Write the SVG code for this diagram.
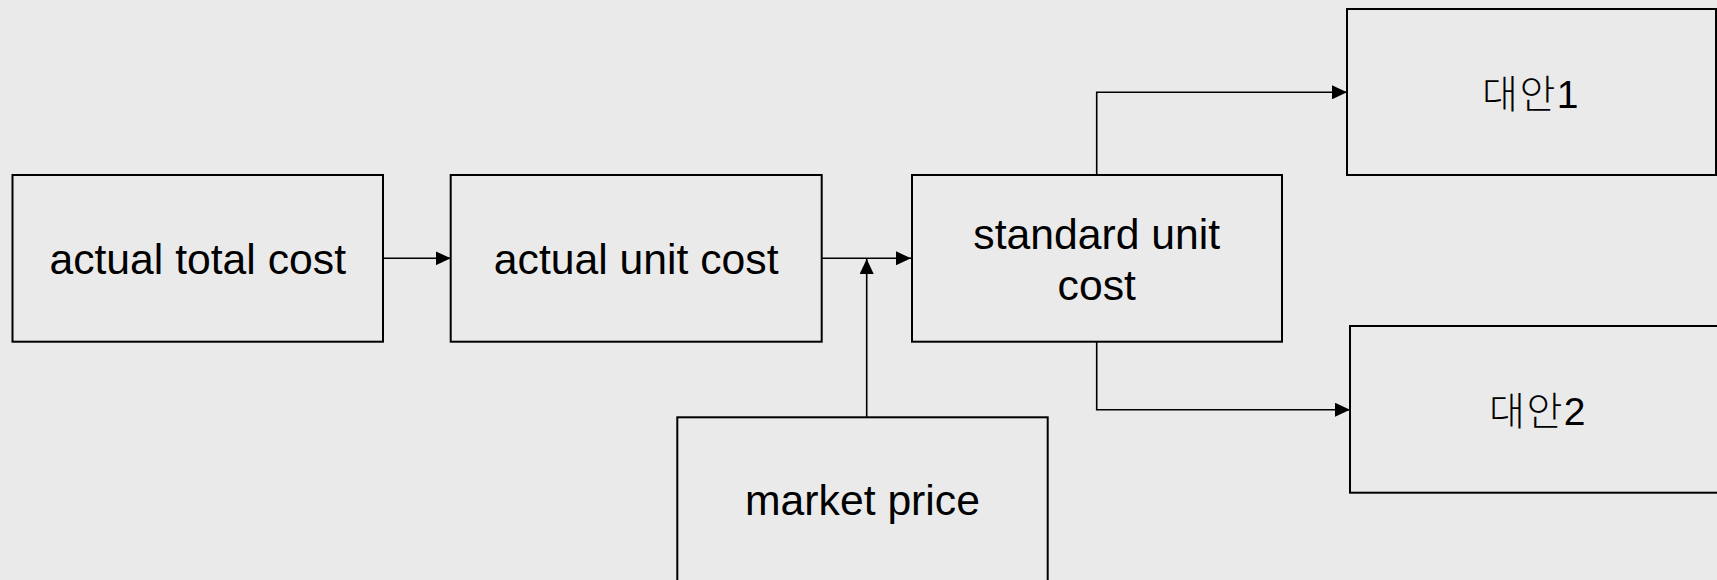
<svg xmlns="http://www.w3.org/2000/svg" width="1717" height="580" viewBox="0 0 1717 580">
  <style>
    .box { fill: #eaeaea; stroke: #000; stroke-width: 2; }
    .lbl { font-family: "Liberation Sans", Arial, sans-serif; font-size: 42.7px; fill: #000; text-anchor: middle; }
    .kr { font-family: "Liberation Sans", "Noto Sans CJK KR", sans-serif; font-size: 39px; font-weight: 300; letter-spacing: 1.5px; fill: #000; text-anchor: middle; }
    .conn { fill: none; stroke: #000; stroke-width: 1.6; }
  </style>
  <defs>
    <marker id="arrow" markerUnits="userSpaceOnUse" markerWidth="16" markerHeight="14" refX="15" refY="7" orient="auto">
      <path d="M0,0 L15,7 L0,14 Z" fill="#000"/>
    </marker>
  </defs>
  <rect width="1717" height="580" fill="#eaeaea"/>

  <g id="connectors">
    <path class="conn" d="M383 258.3 H450.7" marker-end="url(#arrow)"/>
    <path class="conn" d="M821.7 258.3 H911" marker-end="url(#arrow)"/>
    <path class="conn" d="M866.7 417.3 V259" marker-end="url(#arrow)"/>
    <path class="conn" d="M1096.7 175 V92.3 H1347" marker-end="url(#arrow)"/>
    <path class="conn" d="M1096.7 341.7 V409.7 H1350" marker-end="url(#arrow)"/>
  </g>

  <g id="actual-total-cost">
    <rect class="box" x="12.5" y="175" width="370.5" height="166.7"/>
    <text class="lbl" x="197.7" y="274.3">actual total cost</text>
  </g>
  <g id="actual-unit-cost">
    <rect class="box" x="450.7" y="175" width="371" height="166.7"/>
    <text class="lbl" x="636.2" y="274.3">actual unit cost</text>
  </g>
  <g id="standard-unit-cost">
    <rect class="box" x="912" y="175" width="370" height="166.7"/>
    <text class="lbl" x="1096.7" y="249">standard unit</text>
    <text class="lbl" x="1096.7" y="300">cost</text>
  </g>
  <g id="market-price">
    <rect class="box" x="677.3" y="417.3" width="370.4" height="200"/>
    <text class="lbl" x="862.5" y="515">market price</text>
  </g>
  <g id="alt-1">
    <rect class="box" x="1347" y="9" width="369" height="166"/>
    <text class="kr" x="1531" y="108">대안1</text>
  </g>
  <g id="alt-2">
    <rect class="box" x="1350" y="326" width="380" height="166.7"/>
    <text class="kr" x="1538" y="425">대안2</text>
  </g>
</svg>
